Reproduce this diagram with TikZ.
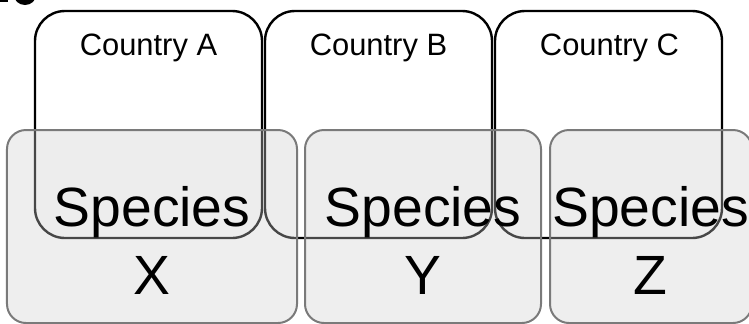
\documentclass[tikz,border=0pt]{standalone}
\usepackage{fontspec}
\setmainfont{Liberation Sans}
\definecolor{specfill}{HTML}{CECECE}
\definecolor{specline}{HTML}{7A7A7A}
\begin{document}
\begin{tikzpicture}[x=1bp,y=-1bp,
  country/.style={draw=black,line width=2.4bp,fill=white,rounded corners=30bp,
    minimum width=227bp,minimum height=227bp,inner sep=0pt,outer sep=0pt},
  species/.style={draw=specline,line width=2bp,fill=specfill,fill opacity=0.35,
    rounded corners=19bp,minimum height=193bp,inner sep=0pt,outer sep=0pt},
  clabel/.style={anchor=base,inner sep=0pt,font=\fontsize{31}{31}\selectfont},
  slabel/.style={anchor=base,inner sep=0pt,font=\fontsize{55.5}{55.5}\selectfont}]
\useasboundingbox (0,0) rectangle (749,323);
\clip (0,0) rectangle (749,323);
% fragment at top-left
\fill[black] (25,-5) ellipse [x radius=11bp,y radius=10bp];
\fill[black] (0,-1) rectangle (8,2);
% country boxes
\node[country] (ca) at (148.5,124.5) {};
\node[country] (cb) at (378.5,124.5) {};
\node[country] (cc) at (608.5,124.5) {};
% species boxes
\node[species,minimum width=290bp] (sx) at (152,226.5) {};
\node[species,minimum width=236bp] (sy) at (423,226.5) {};
\node[species,minimum width=202bp] (sz) at (651,226.5) {};
% labels
\node[clabel] (la) at (148.5,55) {Country A};
\node[clabel] (lb) at (378.5,55) {Country B};
\node[clabel] (lc) at (609.5,55) {Country C};
\node[slabel] (tx1) at (152,226.5) {Species};
\node[slabel] (tx2) at (152,294.5) {X};
\node[slabel] (ty1) at (423,226.5) {Species};
\node[slabel] (ty2) at (423,294.5) {Y};
\node[slabel] (tz1) at (650.5,226.5) {Species};
\node[slabel] (tz2) at (650.5,294.5) {Z};
\end{tikzpicture}
\end{document}
